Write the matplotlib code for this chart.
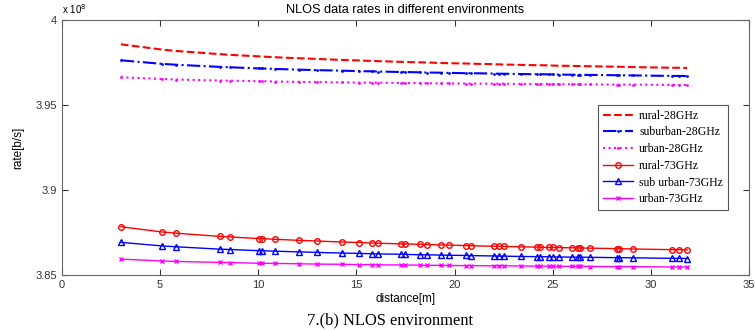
import matplotlib
matplotlib.use("Agg")
import matplotlib.pyplot as plt
from matplotlib.ticker import FormatStrFormatter

# distance [m] of every sample point
distance = [3.0, 5.1, 5.8, 8.05, 8.55, 10.05, 10.2, 10.85, 12.05, 13.0, 14.25,
            15.15, 15.8, 16.1, 17.25, 17.5, 18.25, 18.6, 19.3, 19.7, 20.6, 20.85,
            22.0, 22.25, 22.5, 23.4, 24.2, 24.35, 24.8, 25.0, 25.3, 26.0, 26.3,
            26.4, 26.9, 28.3, 28.4, 29.1, 31.1, 31.45, 31.85]

# rates in units of 1e8 b/s
rural_28 = [3.9857, 3.9826, 3.9818, 3.9799, 3.9795, 3.9786, 3.9785, 3.9781, 3.9775,
            3.9771, 3.9765, 3.9762, 3.9759, 3.9758, 3.9754, 3.9753, 3.9751, 3.9750,
            3.9747, 3.9746, 3.9744, 3.9743, 3.9740, 3.9739, 3.9738, 3.9736, 3.9734,
            3.9734, 3.9733, 3.9732, 3.9731, 3.9730, 3.9729, 3.9729, 3.9728, 3.9725,
            3.9725, 3.9723, 3.9719, 3.9719, 3.9718]
suburban_28 = [3.9763, 3.9742, 3.9737, 3.9724, 3.9722, 3.9715, 3.9715, 3.9712, 3.9708,
               3.9705, 3.9702, 3.9699, 3.9698, 3.9697, 3.9694, 3.9694, 3.9692, 3.9691,
               3.9690, 3.9689, 3.9687, 3.9687, 3.9685, 3.9684, 3.9684, 3.9682, 3.9681,
               3.9681, 3.9680, 3.9680, 3.9679, 3.9678, 3.9678, 3.9677, 3.9677, 3.9675,
               3.9675, 3.9674, 3.9671, 3.9671, 3.9670]
urban_28 = [3.9663, 3.9653, 3.9650, 3.9644, 3.9643, 3.9640, 3.9640, 3.9638, 3.9636,
            3.9635, 3.9633, 3.9632, 3.9631, 3.9631, 3.9630, 3.9629, 3.9629, 3.9628,
            3.9627, 3.9627, 3.9626, 3.9626, 3.9625, 3.9625, 3.9625, 3.9624, 3.9623,
            3.9623, 3.9623, 3.9622, 3.9622, 3.9622, 3.9621, 3.9621, 3.9621, 3.9620,
            3.9620, 3.9620, 3.9618, 3.9618, 3.9618]
rural_73 = [3.8784, 3.8753, 3.8746, 3.8727, 3.8724, 3.8714, 3.8714, 3.8710, 3.8704,
            3.8700, 3.8694, 3.8691, 3.8688, 3.8687, 3.8683, 3.8683, 3.8680, 3.8679,
            3.8677, 3.8676, 3.8673, 3.8672, 3.8669, 3.8669, 3.8668, 3.8666, 3.8664,
            3.8664, 3.8662, 3.8662, 3.8661, 3.8660, 3.8659, 3.8659, 3.8658, 3.8655,
            3.8655, 3.8653, 3.8649, 3.8649, 3.8648]
suburban_73 = [3.8692, 3.8671, 3.8666, 3.8652, 3.8650, 3.8643, 3.8643, 3.8640, 3.8636,
               3.8633, 3.8629, 3.8627, 3.8625, 3.8624, 3.8622, 3.8621, 3.8619, 3.8619,
               3.8617, 3.8616, 3.8615, 3.8614, 3.8612, 3.8611, 3.8611, 3.8609, 3.8608,
               3.8608, 3.8607, 3.8607, 3.8606, 3.8605, 3.8605, 3.8605, 3.8604, 3.8602,
               3.8602, 3.8601, 3.8598, 3.8598, 3.8597]
urban_73 = [3.8593, 3.8583, 3.8580, 3.8574, 3.8573, 3.8569, 3.8569, 3.8568, 3.8566,
            3.8564, 3.8563, 3.8561, 3.8561, 3.8560, 3.8559, 3.8559, 3.8558, 3.8557,
            3.8557, 3.8556, 3.8555, 3.8555, 3.8554, 3.8554, 3.8554, 3.8553, 3.8552,
            3.8552, 3.8552, 3.8552, 3.8551, 3.8551, 3.8551, 3.8551, 3.8550, 3.8549,
            3.8549, 3.8549, 3.8547, 3.8547, 3.8547]

x_ticks = [0, 5, 10, 15, 20, 25, 30, 35]
y_ticks = [3.85, 3.9, 3.95, 4.0]

plt.rcParams["font.family"] = ["Liberation Sans", "DejaVu Sans"]

fig = plt.figure(figsize=(7.55, 3.3), dpi=100)
ax = fig.add_axes([62 / 755, 55 / 330, 687 / 755, 255 / 330])

ax.plot(distance, rural_28, "--", color="#ff0000", lw=1.5, label="rural-28GHz")
ax.plot(distance, suburban_28, "-.", color="#0000ff", lw=1.5, marker=".",
        markersize=2, label="suburban-28GHz")
ax.plot(distance, urban_28, ":", color="#ff00ff", lw=1.5, marker=".",
        markersize=2, label="urban-28GHz")
ax.plot(distance, rural_73, "-", color="#ff0000", lw=1, marker="o",
        markersize=4, markerfacecolor="none", label="rural-73GHz")
ax.plot(distance, suburban_73, "-", color="#0000ff", lw=1, marker="^",
        markersize=4.5, markerfacecolor="none", label="sub urban-73GHz")
ax.plot(distance, urban_73, "-", color="#ff00ff", lw=1, marker="x",
        markersize=3.2, label="urban-73GHz")

ax.set_xlim(0, 35)
ax.set_ylim(3.85, 4.0)
ax.set_xticks(x_ticks)
ax.set_yticks(y_ticks)
ax.yaxis.set_major_formatter(FormatStrFormatter("%g"))
ax.tick_params(direction="in", length=4, labelsize=8, colors="#333333",
               top=True, right=True)
for spine in ax.spines.values():
    spine.set_color("#666666")
    spine.set_linewidth(0.8)

ax.set_title("NLOS data rates in different environments", fontsize=9.2, pad=5)
ax.set_xlabel("distance[m]", fontsize=8.5, labelpad=2)
ax.set_ylabel("rate[b/s]", fontsize=8.5, labelpad=8)
fig.text(62 / 755, 1 - 14 / 330, r"x 10$^8$", fontsize=7, ha="left", va="baseline")

leg = ax.legend(loc="upper right", bbox_to_anchor=(0.969, 0.667), fancybox=False,
                edgecolor="#555555", framealpha=1, handlelength=2.6,
                handletextpad=0.5, labelspacing=0.4, borderpad=0.4,
                borderaxespad=0, prop={"family": "Liberation Serif", "size": 8.5})
leg.get_frame().set_linewidth(0.8)

fig.text(390 / 755, 1 - 320 / 330, "7.(b) NLOS environment",
         family="Liberation Serif", fontsize=11.9, ha="center", va="center")

fig.savefig("out.png", dpi=100)
